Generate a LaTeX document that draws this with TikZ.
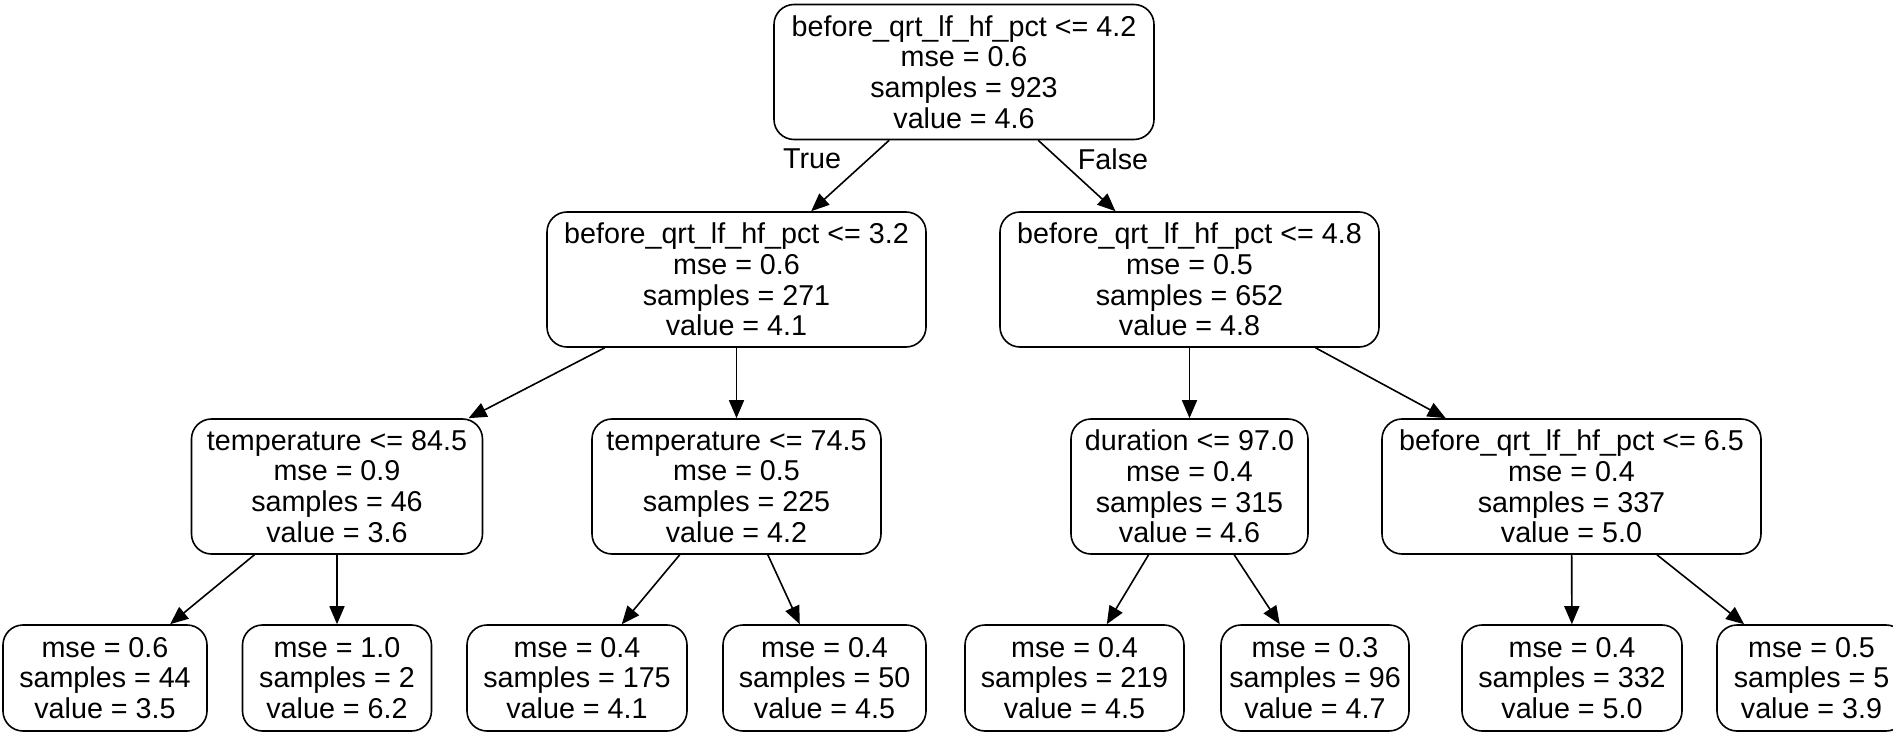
\documentclass[tikz,border=0pt]{standalone}
\usepackage{fontspec}
\setmainfont{Liberation Sans}
\usetikzlibrary{arrows.meta}
\newcommand\dtfont{\fontsize{28.7}{30.8}\selectfont}
\tikzset{
  tn/.style={draw, rounded corners=20pt, align=center, inner sep=0pt, line width=1.6pt, font=\dtfont, minimum height=135pt},
  lf/.style={tn, minimum height=106pt},
  ed/.style={line width=1.6pt, -{Triangle[length=18pt,width=15pt]}},
  el/.style={font=\dtfont, inner sep=0pt}
}
\begin{document}
\begin{tikzpicture}[x=1pt,y=-1pt]
\useasboundingbox (0,0) rectangle (1893,735);
\clip (0,0) rectangle (1893,735);
\node[tn, minimum width=380pt] (r) at (964,72) {before\_qrt\_lf\_hf\_pct <= 4.2\\mse = 0.6\\samples = 923\\value = 4.6};
\node[tn, minimum width=379pt] (a) at (736.5,279.5) {before\_qrt\_lf\_hf\_pct <= 3.2\\mse = 0.6\\samples = 271\\value = 4.1};
\node[tn, minimum width=379pt] (b) at (1189.5,279.5) {before\_qrt\_lf\_hf\_pct <= 4.8\\mse = 0.5\\samples = 652\\value = 4.8};
\node[tn, minimum width=291pt] (aa) at (337,486.5) {temperature <= 84.5\\mse = 0.9\\samples = 46\\value = 3.6};
\node[tn, minimum width=289pt] (ab) at (736.5,486.5) {temperature <= 74.5\\mse = 0.5\\samples = 225\\value = 4.2};
\node[tn, minimum width=237pt] (ba) at (1189.5,486.5) {duration <= 97.0\\mse = 0.4\\samples = 315\\value = 4.6};
\node[tn, minimum width=379pt] (bb) at (1571.5,486.5) {before\_qrt\_lf\_hf\_pct <= 6.5\\mse = 0.4\\samples = 337\\value = 5.0};
\node[lf, minimum width=204pt] (l1) at (105,678) {mse = 0.6\\samples = 44\\value = 3.5};
\node[lf, minimum width=189pt] (l2) at (337,678) {mse = 1.0\\samples = 2\\value = 6.2};
\node[lf, minimum width=220pt] (l3) at (577,678) {mse = 0.4\\samples = 175\\value = 4.1};
\node[lf, minimum width=203pt] (l4) at (824.5,678) {mse = 0.4\\samples = 50\\value = 4.5};
\node[lf, minimum width=219pt] (l5) at (1074.5,678) {mse = 0.4\\samples = 219\\value = 4.5};
\node[lf, minimum width=188pt] (l6) at (1315,678) {mse = 0.3\\samples = 96\\value = 4.7};
\node[lf, minimum width=220pt] (l7) at (1572,678) {mse = 0.4\\samples = 332\\value = 5.0};
\node[lf, minimum width=189pt] (l8) at (1811.5,678) {mse = 0.5\\samples = 5\\value = 3.9};
\draw[ed] (r) -- (a);
\draw[ed] (r) -- (b);
\draw[ed] (a) -- (aa);
\draw[ed] (a) -- (ab);
\draw[ed] (b) -- (ba);
\draw[ed] (b) -- (bb);
\draw[ed] (aa) -- (l1);
\draw[ed] (aa) -- (l2);
\draw[ed] (ab) -- (l3);
\draw[ed] (ab) -- (l4);
\draw[ed] (ba) -- (l5);
\draw[ed] (ba) -- (l6);
\draw[ed] (bb) -- (l7);
\draw[ed] (bb) -- (l8);
\node[el] (t) at (812,159) {True};
\node[el] (f) at (1113,159) {False};
\end{tikzpicture}
\end{document}
